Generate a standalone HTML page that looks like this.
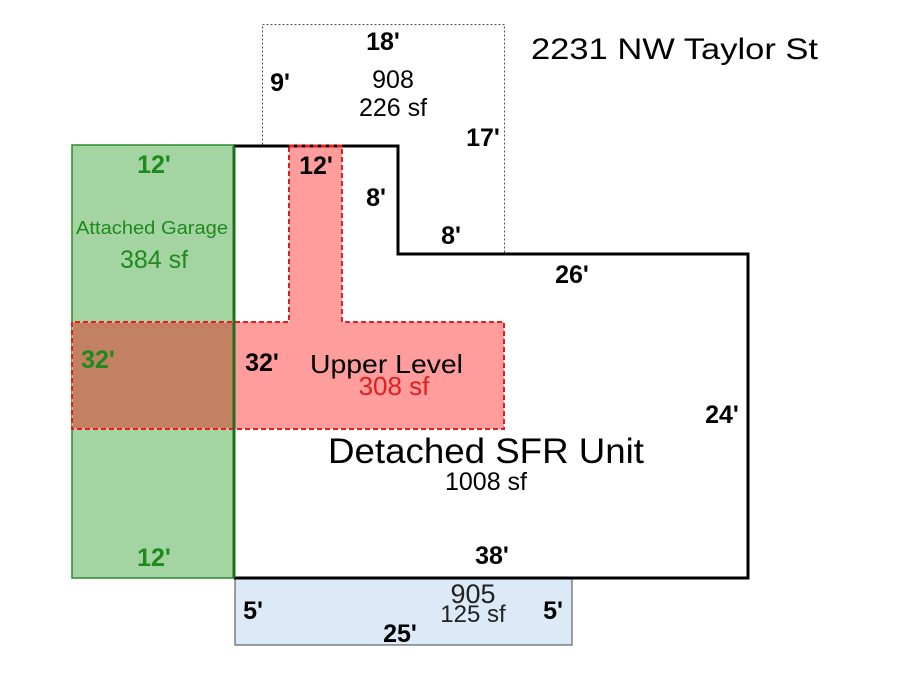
<!DOCTYPE html>
<html><head><style>body{margin:0;background:#fff}</style></head><body>
<svg width="900" height="675" xmlns="http://www.w3.org/2000/svg" font-family="Liberation Sans, sans-serif">
<rect width="900" height="675" fill="#fff"/>
<rect x="262.5" y="24.5" width="242" height="230" fill="none" stroke="#555" stroke-width="1" stroke-dasharray="2,2"/>
<path d="M234,146 H398 V254 H748 V578 H234 Z" fill="#fff"/>
<rect x="235" y="578" width="337" height="67" fill="#dce9f6" stroke="#444" stroke-width="1"/>
<rect x="72" y="145" width="162" height="433" fill="#a3d4a1" stroke="#2e8b2e" stroke-width="1.5"/>
<path d="M289,146 H342 V322 H504 V429 H72 V322 H289 Z" fill="#ff9c9c" stroke="#e02020" stroke-width="2" stroke-dasharray="5,3"/>
<rect x="73" y="323" width="161" height="105" fill="#c28163"/>
<path d="M234,146 H398 V254 H748 V578 H234" fill="none" stroke="#000" stroke-width="3"/>
<line x1="234" y1="146" x2="234" y2="578" stroke="#1f6f1f" stroke-width="3"/>
<path d="M289,146 H342" stroke="#e02020" stroke-width="3" stroke-dasharray="5,3"/>
<g font-weight="bold" font-size="25" fill="#000" text-anchor="middle">
<text x="383" y="50">18'</text>
<text x="280" y="91">9'</text>
<text x="483" y="146">17'</text>
<text x="316" y="174">12'</text>
<text x="376" y="206">8'</text>
<text x="451" y="244">8'</text>
<text x="572" y="283">26'</text>
<text x="262" y="371">32'</text>
<text x="722" y="423">24'</text>
<text x="492" y="564">38'</text>
<text x="253" y="619">5'</text>
<text x="553" y="619">5'</text>
<text x="400" y="642">25'</text>
</g>
<g font-weight="bold" font-size="25" fill="#1e8a1e" text-anchor="middle">
<text x="154" y="173">12'</text>
<text x="98" y="368">32'</text>
<text x="154" y="566">12'</text>
</g>
<text x="76" y="234" font-size="18" fill="#1e8a1e" textLength="152" lengthAdjust="spacingAndGlyphs">Attached Garage</text>
<text x="154" y="268" font-size="25" fill="#1e8a1e" text-anchor="middle">384 sf</text>
<text x="393" y="88" font-size="25" text-anchor="middle">908</text>
<text x="393" y="116" font-size="25" text-anchor="middle">226 sf</text>
<text x="531" y="59" font-size="30" textLength="287" lengthAdjust="spacingAndGlyphs">2231 NW Taylor St</text>
<text x="310" y="373" font-size="26" textLength="153" lengthAdjust="spacingAndGlyphs">Upper Level</text>
<text x="394" y="395" font-size="26" fill="#e02020" text-anchor="middle">308 sf</text>
<text x="328" y="463" font-size="35" textLength="316" lengthAdjust="spacingAndGlyphs">Detached SFR Unit</text>
<text x="486" y="490" font-size="25" text-anchor="middle">1008 sf</text>
<text x="473" y="603" font-size="27" fill="#222" text-anchor="middle">905</text>
<text x="473" y="622" font-size="24" fill="#222" text-anchor="middle">125 sf</text>
</svg>
</body></html>
